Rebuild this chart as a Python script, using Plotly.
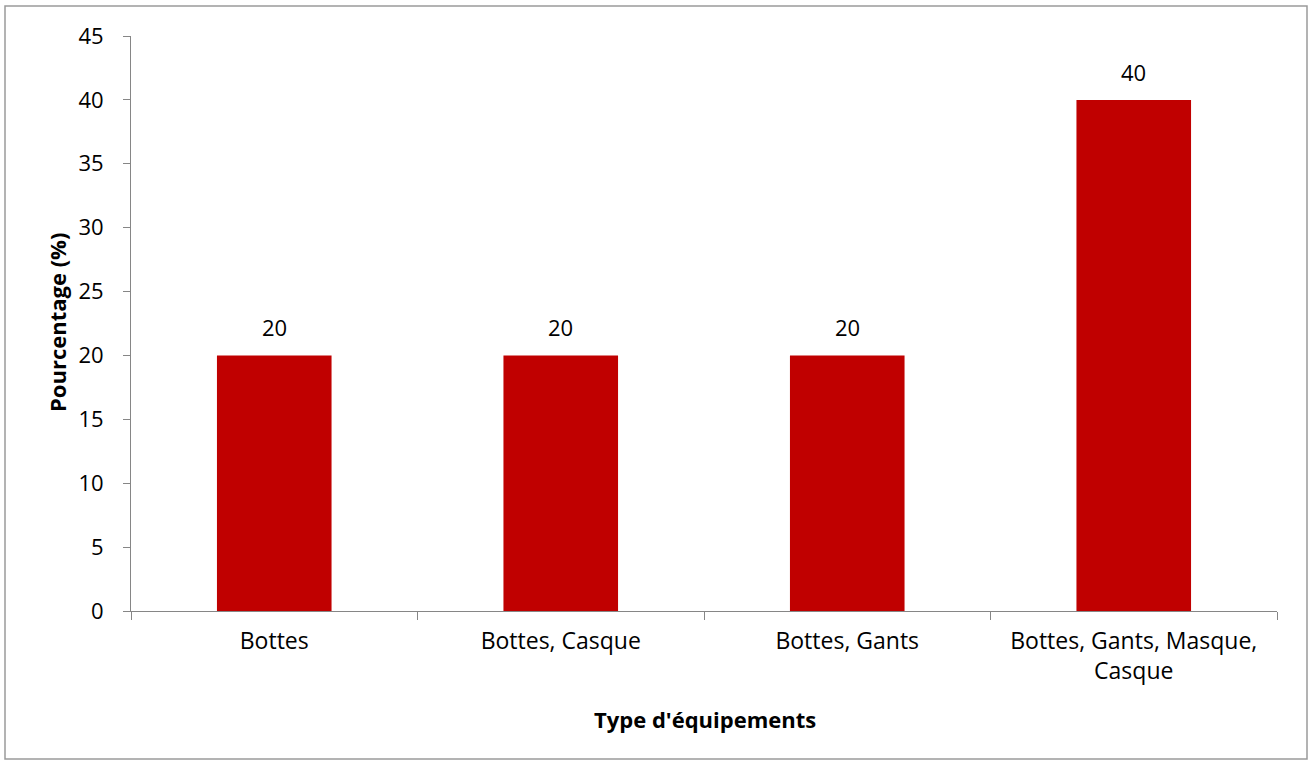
import plotly.graph_objects as go

categories = ["Bottes", "Bottes, Casque", "Bottes, Gants", "Bottes, Gants, Masque,<br>Casque"]
values = [20, 20, 20, 40]
y_ticks = [0, 5, 10, 15, 20, 25, 30, 35, 40, 45]

W, H = 1311, 762
ML, MR, MT, MB = 131, 34, 36, 151
PW, PH = W - ML - MR, H - MT - MB

FONT = "Open Sans, sans-serif"
FS = 22

fig = go.Figure()
fig.add_trace(go.Bar(
    x=categories, y=values,
    marker=dict(color="#C00000", line=dict(width=0)),
    cliponaxis=False, hoverinfo="x+y",
))

def px_x(px):
    return (px - ML) / PW

def px_y(py):
    return (H - MB - py) / PH

annotations = [
    dict(x=c, y=v, xref="x", yref="y", text=str(v), showarrow=False,
         yanchor="bottom", yshift=11, font=dict(family=FONT, size=FS, color="#000000"))
    for c, v in zip(categories, values)
]
annotations += [
    dict(text="<b>Type d'équipements</b>", xref="paper", yref="paper",
         x=px_x(705), y=px_y(719), xanchor="center", yanchor="middle", showarrow=False,
         font=dict(family=FONT, size=FS, color="#000000")),
    dict(text="<b>Pourcentage (%)</b>", xref="paper", yref="paper",
         x=px_x(57), y=px_y(323), xanchor="center", yanchor="middle",
         showarrow=False, textangle=-90,
         font=dict(family=FONT, size=FS, color="#000000")),
]

fig.update_layout(
    width=W, height=H,
    margin=dict(l=ML, r=MR, t=MT, b=MB),
    paper_bgcolor="white", plot_bgcolor="white",
    bargap=0.6, showlegend=False,
    font=dict(family=FONT, size=FS, color="#000000"),
    xaxis=dict(
        type="category", showline=True, linecolor="#868686", linewidth=1,
        ticks="outside", tickson="boundaries", ticklen=8, tickcolor="#868686",
        showgrid=False, zeroline=False, ticklabelstandoff=9,
        tickfont=dict(family=FONT, size=23, color="#000000"),
    ),
    yaxis=dict(
        range=[0, 45], tickvals=y_ticks, showline=True, linecolor="#868686", linewidth=1,
        ticks="outside", ticklen=7, tickcolor="#868686", showgrid=False, zeroline=False,
        ticklabelstandoff=15,
        tickfont=dict(family=FONT, size=FS, color="#000000"),
    ),
    shapes=[dict(type="rect", xref="paper", yref="paper",
                 x0=px_x(5), x1=px_x(1307), y0=px_y(759), y1=px_y(6),
                 line=dict(color="#9a9a9a", width=1.5), layer="below")],
    annotations=annotations,
)

fig.write_html("out.html")
